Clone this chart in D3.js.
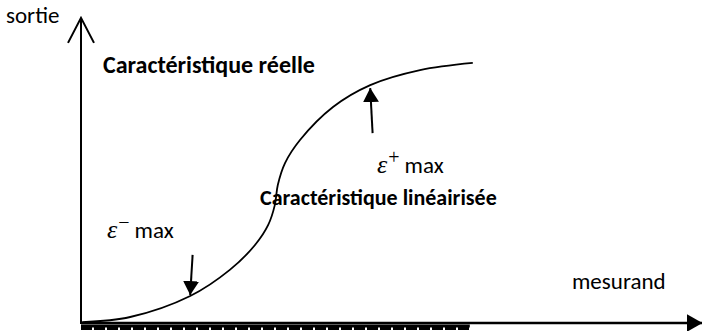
<!DOCTYPE html>
<html>
<head>
<meta charset="utf-8">
<script src="https://cdn.jsdelivr.net/npm/d3@7"></script>
<style>
  body { margin: 0; background: #fff; }
  text { font-family: Carlito, "Open Sans", sans-serif; fill: #000; }
</style>
</head>
<body>
<div id="chart"></div>
<script>
// characteristic curve, in axis units (mesurand 0..10, sortie 0..10)
const curveX = [0.02, 0.82, 1.82, 2.48, 2.9, 3.12, 3.23, 3.28, 3.4, 3.65, 4.2, 4.82, 5.65, 6.53];
const curveY = [0.03, 0.2, 0.9, 1.77, 2.6, 3.27, 3.93, 4.6, 5.33, 6.1, 7.2, 7.93, 8.43, 8.67];

// error arrows: [from, to] points
const errPlus = [[4.86, 6.33], [4.82, 7.83]];
const errMinus = [[1.86, 2.27], [1.82, 0.93]];

const axisLabels = ['sortie', 'mesurand'];
const curveLabels = ['Caractéristique réelle', 'Caractéristique linéairisée'];

const W = 702, H = 331;
const x = d3.scaleLinear().domain([0, 10]).range([81, 681]);
const y = d3.scaleLinear().domain([0, 10]).range([323, 23]);

const svg = d3.select('#chart').append('svg')
  .attr('width', W)
  .attr('height', H);

const defs = svg.append('defs');
defs.append('marker')
  .attr('id', 'tri')
  .attr('markerUnits', 'userSpaceOnUse')
  .attr('viewBox', '0 0 14 16')
  .attr('refX', 14).attr('refY', 8)
  .attr('markerWidth', 14).attr('markerHeight', 16)
  .attr('orient', 'auto')
  .append('path').attr('d', 'M0,0L14,8L0,16Z').attr('fill', '#000');
defs.append('marker')
  .attr('id', 'triAxis')
  .attr('markerUnits', 'userSpaceOnUse')
  .attr('viewBox', '0 0 16 18')
  .attr('refX', 16).attr('refY', 9)
  .attr('markerWidth', 16).attr('markerHeight', 18)
  .attr('orient', 'auto')
  .append('path').attr('d', 'M0,0L16,9L0,18Z').attr('fill', '#000');
defs.append('marker')
  .attr('id', 'vee')
  .attr('markerUnits', 'userSpaceOnUse')
  .attr('viewBox', '-1 -1 28 30')
  .attr('refX', 25).attr('refY', 13)
  .attr('markerWidth', 28).attr('markerHeight', 30)
  .attr('orient', 'auto')
  .append('path').attr('d', 'M0,0L25,13L0,26')
  .attr('fill', 'none').attr('stroke', '#000').attr('stroke-width', 2);

// axes
svg.append('line')
  .attr('x1', x(0)).attr('y1', y(0) + 3)
  .attr('x2', x(6.48)).attr('y2', y(0) + 3)
  .attr('stroke', '#000').attr('stroke-width', 3);
svg.append('line')
  .attr('x1', x(0)).attr('y1', y(0) + 5.5)
  .attr('x2', x(6.48)).attr('y2', y(0) + 5.5)
  .attr('stroke', '#000').attr('stroke-width', 3)
  .attr('stroke-dasharray', '11,2');
svg.append('line')
  .attr('x1', x(0)).attr('y1', y(0))
  .attr('x2', x(10.36)).attr('y2', y(0))
  .attr('stroke', '#000').attr('stroke-width', 2.5)
  .attr('marker-end', 'url(#triAxis)');
svg.append('line')
  .attr('x1', x(0)).attr('y1', y(0) + 1)
  .attr('x2', x(0)).attr('y2', y(10.17))
  .attr('stroke', '#000').attr('stroke-width', 2)
  .attr('marker-end', 'url(#vee)');

// curve
const pts = curveX.map((v, i) => [v, curveY[i]]);
const line = d3.line()
  .x(d => x(d[0]))
  .y(d => y(d[1]))
  .curve(d3.curveCatmullRom.alpha(0.5));
svg.append('path')
  .datum(pts)
  .attr('d', line)
  .attr('fill', 'none')
  .attr('stroke', '#000')
  .attr('stroke-width', 1.8);

// error arrows
[errPlus, errMinus].forEach(a => {
  svg.append('line')
    .attr('x1', x(a[0][0])).attr('y1', y(a[0][1]))
    .attr('x2', x(a[1][0])).attr('y2', y(a[1][1]))
    .attr('stroke', '#000').attr('stroke-width', 2)
    .attr('marker-end', 'url(#tri)');
});

// labels
svg.append('text').attr('x', 6).attr('y', 23)
  .attr('font-size', 23).text(axisLabels[0]);
svg.append('text').attr('x', 572).attr('y', 289)
  .attr('font-size', 23).text(axisLabels[1]);

svg.append('text').attr('x', 103).attr('y', 73)
  .attr('font-size', 24).attr('font-weight', 'bold').text(curveLabels[0]);
svg.append('text').attr('x', 260).attr('y', 205)
  .attr('font-size', 22).attr('font-weight', 'bold').text(curveLabels[1]);

function epsLabel(px, py, sign) {
  const t = svg.append('text').attr('x', px).attr('y', py).attr('font-size', 23);
  t.append('tspan')
    .style('font-family', '"Liberation Serif", serif')
    .attr('font-style', 'italic').attr('font-size', 26).text('ε');
  t.append('tspan').attr('dy', -9).attr('dx', 1).attr('font-size', 20)
    .style('font-family', '"Liberation Serif", serif').text(sign);
  t.append('tspan').attr('dy', 9).attr('dx', 5).text('max');
}
epsLabel(377, 173, '+');
epsLabel(107, 238, '−');
</script>
</body>
</html>
